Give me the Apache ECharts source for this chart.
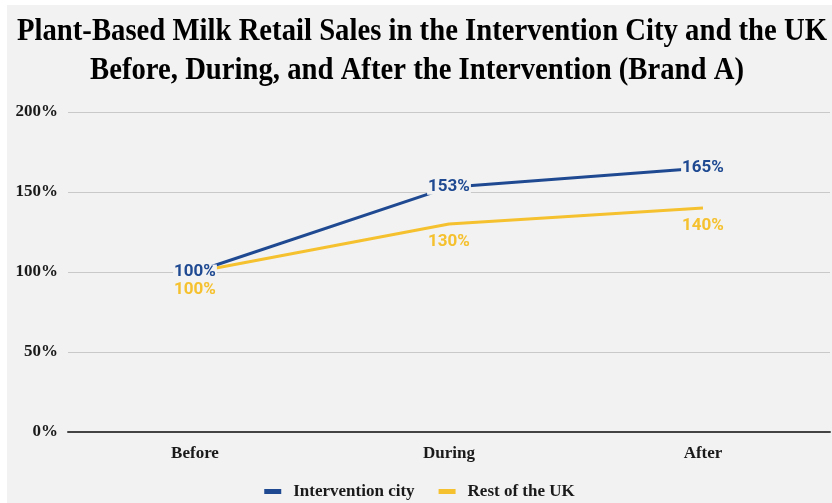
<!DOCTYPE html>
<html>
<head>
<meta charset="utf-8">
<script src="https://cdn.jsdelivr.net/npm/echarts@6/dist/echarts.min.js"></script>
<style>
  html, body { margin: 0; padding: 0; background: #ffffff; }
  #chart { position: absolute; left: 7px; top: 5px; width: 825px; height: 498px; background: #f2f2f2; }
</style>
</head>
<body>
<div id="chart"></div>
<script>
const titleLines = [
  'Plant-Based Milk Retail Sales in the Intervention City and the UK',
  'Before, During, and After the Intervention (Brand A)'
];
const categories = ['Before', 'During', 'After'];
const seriesNames = ['Intervention city', 'Rest of the UK'];
const interventionCity = [100, 153, 165];
const restOfUK = [100, 130, 140];
const yTicks = [0, 50, 100, 150, 200];

const BLUE = '#1f4a92';
const YELLOW = '#f5c12f';
const SERIF = '"Liberation Serif", "Times New Roman", serif';
const SANS = 'Roboto, "Noto Sans", sans-serif';

const titleFont = 'bold 32px ' + SERIF;
const cv = document.createElement('canvas').getContext('2d');
cv.font = titleFont;
const w1 = cv.measureText(titleLines[0]).width;
const titleScale = 810 / w1;

const chart = echarts.init(document.getElementById('chart'), null, { renderer: 'canvas' });
chart.setOption({
  backgroundColor: '#f2f2f2',
  animation: false,
  graphic: [
    {
      type: 'text', x: 415, y: 27, scaleX: titleScale, scaleY: 1,
      style: { text: titleLines[0], font: titleFont, fill: '#000', align: 'center', verticalAlign: 'middle' }
    },
    {
      type: 'text', x: 410, y: 66, scaleX: titleScale, scaleY: 1,
      style: { text: titleLines[1], font: titleFont, fill: '#000', align: 'center', verticalAlign: 'middle' }
    }
  ],
  grid: { left: 61, right: 2, top: 107, bottom: 71, containLabel: false },
  legend: {
    data: seriesNames,
    top: 473,
    left: 'center',
    icon: 'rect',
    itemWidth: 17,
    itemHeight: 5,
    itemGap: 24,
    textStyle: { fontFamily: SERIF, fontWeight: 'bold', fontSize: 17, color: '#1a1a1a', padding: [0, 0, 0, 7] }
  },
  xAxis: {
    type: 'category',
    data: categories,
    boundaryGap: true,
    axisLine: { show: true, lineStyle: { color: '#444', width: 2 } },
    axisTick: { show: false },
    axisLabel: { fontFamily: SERIF, fontWeight: 'bold', fontSize: 17, color: '#1a1a1a', margin: 13 },
    splitLine: { show: false }
  },
  yAxis: {
    type: 'value',
    min: yTicks[0],
    max: yTicks[yTicks.length - 1],
    interval: yTicks[1] - yTicks[0],
    axisLine: { show: false },
    axisTick: { show: false },
    axisLabel: { formatter: '{value}%', fontFamily: SERIF, fontWeight: 'bold', fontSize: 17, color: '#1a1a1a', margin: 10 },
    splitLine: { show: true, lineStyle: { color: '#c9c9c9', width: 1 } }
  },
  series: [
    {
      name: seriesNames[1],
      type: 'line',
      data: restOfUK,
      symbol: 'circle',
      symbolSize: 0,
      showSymbol: true,
      itemStyle: { color: YELLOW },
      lineStyle: { color: YELLOW, width: 3 },
      z: 2,
      label: {
        show: true, position: 'bottom', distance: 9,
        formatter: p => p.value + '%',
        color: YELLOW, fontFamily: SANS, fontWeight: 'bold', fontSize: 17
      }
    },
    {
      name: seriesNames[0],
      type: 'line',
      data: interventionCity,
      symbol: 'circle',
      symbolSize: 0,
      showSymbol: true,
      itemStyle: { color: BLUE },
      lineStyle: { color: BLUE, width: 3 },
      z: 3,
      label: {
        show: true, position: 'inside', offset: [0, 0],
        formatter: p => p.value + '%',
        color: BLUE, fontFamily: SANS, fontWeight: 'bold', fontSize: 17,
        backgroundColor: '#f2f2f2', padding: [0, 1], lineHeight: 15
      }
    }
  ]
});
</script>
</body>
</html>
